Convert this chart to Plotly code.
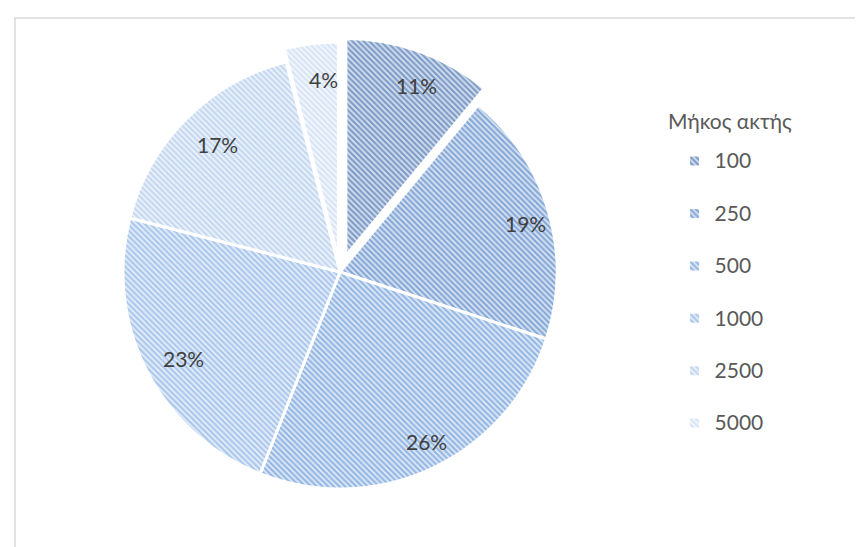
import numpy as np
import plotly.graph_objects as go

# Data
labels = ["100", "250", "500", "1000", "2500", "5000"]
values = [11, 19, 26, 23, 17, 4]
legend_title = "Μήκος ακτής"

# Styles
fg_colors = ["#2a5699", "#346bb6", "#4a84cc", "#6f9fdb", "#9dbde6", "#bcd2ef"]
bg_colors = ["#d8e3f3", "#dce7f6", "#e2ecf9", "#e8f0fb", "#eef4fc", "#f4f8fd"]
pulls = [0.08, 0, 0, 0, 0, 0.06]

W, H = 863, 547
CX, CY, R = 340.0, 267.0, 217.0   # pie centre / radius in px (layout)
LABEL_K = 0.85

fig = go.Figure()
fig.add_trace(go.Pie(
    labels=["<span style='font-size:21px'>" + l + "</span><br> " for l in labels],
    values=values,
    sort=False,
    direction="clockwise",
    rotation=0,
    pull=pulls,
    textinfo="none",
    marker=dict(
        colors=bg_colors,
        line=dict(color="white", width=3),
        pattern=dict(shape="\\", fgcolor=fg_colors, bgcolor=bg_colors,
                     size=4, solidity=0.58, fillmode="overlay"),
    ),
    domain=dict(x=[0.1131, 0.6563], y=[0.0889, 0.9459]),
    hoverinfo="label+percent",
))

# Percent labels placed along each slice's bisector (derived from values)
vals = np.array(values, dtype=float)
total = vals.sum()
cum = np.cumsum(vals) - vals / 2
theta = 2 * np.pi * cum / total
annotations = []
for i, v in enumerate(vals):
    rr = (pulls[i] + LABEL_K) * R
    px = CX + rr * np.sin(theta[i])
    py = CY - rr * np.cos(theta[i])
    annotations.append(dict(
        x=px / W, y=1 - py / H, xref="paper", yref="paper",
        text=f"{round(100 * v / total):.0f}%", showarrow=False,
        font=dict(family="Lato", size=21, color="#404040"),
        xanchor="center", yanchor="middle",
    ))

# Legend title
annotations.append(dict(
    x=722 / W, y=1 - 112 / H, xref="paper", yref="paper",
    text=legend_title, showarrow=False,
    font=dict(family="Lato", size=21, color="#595959"),
    xanchor="center", yanchor="middle",
))

fig.update_layout(
    width=W, height=H,
    margin=dict(l=0, r=0, t=0, b=0),
    paper_bgcolor="white",
    plot_bgcolor="white",
    showlegend=True,
    legend=dict(
        font=dict(family="Lato", size=19, color="#595959"),
        x=0.7724, xanchor="left",
        y=0.7546, yanchor="top",
        valign="top",
        bgcolor="rgba(0,0,0,0)",
    ),
    annotations=annotations,
    shapes=[dict(type="rect", xref="paper", yref="paper",
                 x0=7/863, x1=862/863, y0=2/547, y1=1-10/547,
                 line=dict(color="#d9d9d9", width=1.5), fillcolor="rgba(0,0,0,0)")],
)

fig.write_html("out.html")
